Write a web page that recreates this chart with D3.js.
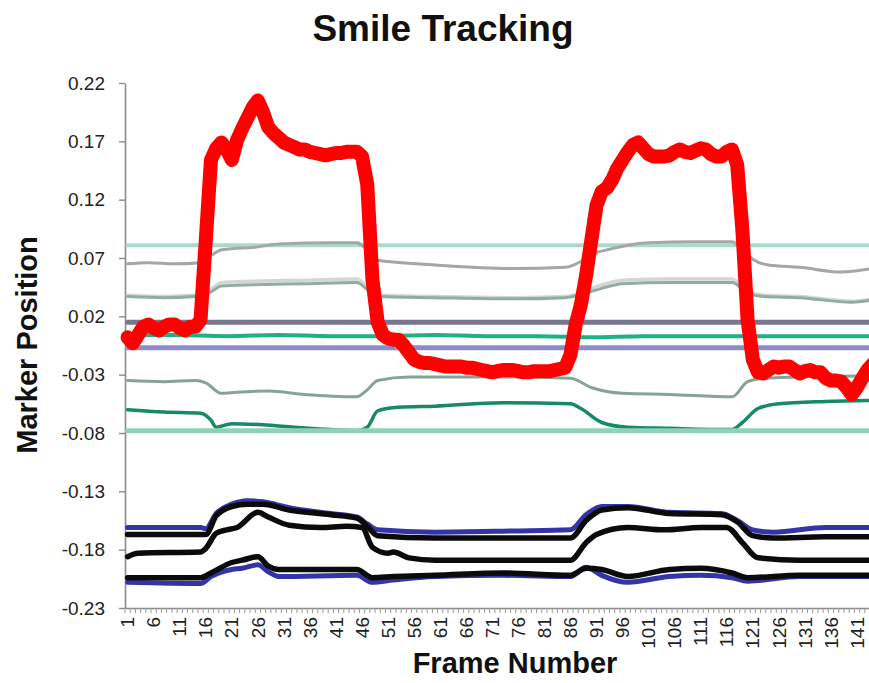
<!DOCTYPE html>
<html><head><meta charset="utf-8">
<script src="https://cdn.jsdelivr.net/npm/d3@7"></script>
<style>
body{margin:0;background:#fff}
svg{display:block}
text{font-family:"Liberation Sans",Arial,Helvetica,sans-serif}
</style>
</head><body>
<svg id="chart" width="869" height="683"></svg>
<script>
// ---------- DATA ----------
const frames = d3.range(1, 145);               // categories 1..144
const xLabelFrames = d3.range(1, 145, 5);      // 1, 6, 11, ... 141
const yTicks = [0.22, 0.17, 0.12, 0.07, 0.02, -0.03, -0.08, -0.13, -0.18, -0.23];

// red smile marker (every frame)
const redValues = [
  0.002,-0.003,0.004,0.011,0.013,0.010,0.008,0.011,0.013,0.013,
  0.010,0.008,0.011,0.011,0.017,0.085,0.154,0.164,0.169,0.163,
  0.154,0.171,0.181,0.190,0.199,0.205,0.195,0.182,0.177,0.173,
  0.169,0.167,0.165,0.163,0.163,0.161,0.160,0.159,0.158,0.159,
  0.160,0.160,0.161,0.161,0.161,0.157,0.133,0.051,0.015,0.004,
  0.001,0.000,0.000,-0.005,-0.011,-0.017,-0.019,-0.020,-0.020,-0.021,
  -0.022,-0.023,-0.023,-0.023,-0.023,-0.024,-0.024,-0.025,-0.026,-0.027,
  -0.028,-0.027,-0.026,-0.026,-0.026,-0.027,-0.028,-0.028,-0.027,-0.027,
  -0.027,-0.027,-0.026,-0.025,-0.024,-0.013,0.013,0.030,0.055,0.085,
  0.115,0.127,0.130,0.137,0.147,0.154,0.161,0.167,0.169,0.164,
  0.159,0.157,0.157,0.157,0.158,0.161,0.163,0.161,0.160,0.162,
  0.164,0.163,0.159,0.157,0.157,0.161,0.163,0.150,0.094,0.017,
  -0.017,-0.028,-0.029,-0.026,-0.023,-0.024,-0.023,-0.023,-0.026,-0.029,
  -0.027,-0.026,-0.028,-0.028,-0.033,-0.035,-0.035,-0.036,-0.041,-0.047,
  -0.041,-0.033,-0.026,-0.021
];

// constant-level markers
const mintTopLevel = 0.081;
const slateLevel = 0.015;
const lavenderLevel = -0.007;
const mintBottomLevel = -0.078;

// gray upper marker
const grayFrames = [1,5,10,15,17,19,21,25,30,40,45,47,49,51,60,75,85,88,90,93,97,101,110,117,119,121,124,130,138,144];
const grayValues = [0.065,0.066,0.065,0.066,0.072,0.077,0.078,0.079,0.082,0.083,0.083,0.077,0.068,0.067,0.064,0.061,0.062,0.067,0.073,0.077,0.081,0.083,0.084,0.084,0.077,0.069,0.064,0.062,0.058,0.061];

// gray-green and light-gray pair
const pairFrames = [1,8,14,17,19,25,35,45,47,49,60,75,85,89,92,96,105,117,120,123,130,140,144];
const grayGreenValues = [0.037,0.036,0.037,0.041,0.046,0.047,0.048,0.049,0.043,0.037,0.036,0.035,0.036,0.040,0.044,0.048,0.049,0.049,0.040,0.037,0.036,0.032,0.034];
const lightGrayValues = [0.038,0.037,0.038,0.043,0.049,0.050,0.051,0.052,0.045,0.038,0.037,0.036,0.037,0.042,0.047,0.051,0.052,0.052,0.042,0.038,0.037,0.033,0.035];

// teal-green marker
const tealFrames = [1,10,20,30,40,50,60,70,80,90,100,110,120,130,144];
const tealValues = [0.004,0.004,0.003,0.004,0.003,0.003,0.004,0.003,0.003,0.002,0.003,0.003,0.003,0.003,0.003];

// lower gray-green marker
const lowGrayFrames = [1,8,14,16,19,22,28,35,45,47,49,55,65,75,86,90,96,105,117,120,123,130,144];
const lowGrayValues = [-0.035,-0.036,-0.035,-0.037,-0.046,-0.045,-0.044,-0.047,-0.049,-0.043,-0.035,-0.032,-0.032,-0.032,-0.033,-0.041,-0.046,-0.047,-0.049,-0.036,-0.033,-0.032,-0.031];

// lower green marker
const greenFrames = [1,8,15,17,18,21,27,33,40,45,47,49,53,60,73,86,88,92,97,105,117,119,122,126,135,144];
const greenValues = [-0.060,-0.062,-0.063,-0.069,-0.075,-0.072,-0.073,-0.075,-0.077,-0.078,-0.075,-0.061,-0.058,-0.057,-0.054,-0.055,-0.059,-0.071,-0.075,-0.076,-0.077,-0.071,-0.059,-0.055,-0.053,-0.052];

// lower lip group
const topLipFrames = [1,15,16,18,21,24,27,32,40,45,47,49,60,75,86,89,92,97,105,115,118,121,125,135,144];
const blueTopValues = [-0.161,-0.161,-0.162,-0.149,-0.141,-0.138,-0.139,-0.144,-0.149,-0.152,-0.158,-0.163,-0.165,-0.164,-0.163,-0.150,-0.143,-0.143,-0.148,-0.149,-0.155,-0.163,-0.165,-0.161,-0.161];
const blackTopValues = [-0.167,-0.167,-0.167,-0.151,-0.143,-0.141,-0.141,-0.146,-0.150,-0.153,-0.160,-0.168,-0.170,-0.170,-0.170,-0.155,-0.146,-0.144,-0.149,-0.150,-0.156,-0.168,-0.170,-0.169,-0.169];

const midLipFrames = [1,3,15,16,18,20,22,26,28,32,38,43,46,48,51,52,55,60,86,89,91,97,104,111,116,119,122,130,144];
const blackMidValues = [-0.186,-0.183,-0.182,-0.179,-0.166,-0.163,-0.161,-0.148,-0.152,-0.159,-0.161,-0.160,-0.161,-0.178,-0.183,-0.182,-0.187,-0.189,-0.189,-0.174,-0.167,-0.161,-0.163,-0.161,-0.161,-0.174,-0.187,-0.189,-0.189];

const lowLipFrames = [1,15,17,21,23,26,28,30,45,48,52,60,73,86,89,92,97,105,111,117,120,130,144];
const blackLowValues = [-0.204,-0.204,-0.200,-0.191,-0.189,-0.186,-0.194,-0.197,-0.197,-0.204,-0.203,-0.202,-0.200,-0.202,-0.196,-0.197,-0.203,-0.197,-0.196,-0.200,-0.204,-0.202,-0.202];
const blueLowValues = [-0.208,-0.209,-0.203,-0.197,-0.196,-0.193,-0.199,-0.203,-0.202,-0.208,-0.206,-0.203,-0.202,-0.203,-0.195,-0.202,-0.208,-0.203,-0.202,-0.204,-0.207,-0.203,-0.203];

// ---------- CHART ----------
const svg = d3.select("#chart");
const plotLeft = 125, plotTop = 83, plotBottom = 608, catStep = 5.21;

const x = d3.scaleBand().domain(frames).range([plotLeft, plotLeft + frames.length * catStep]).paddingInner(0).paddingOuter(0);
const xc = f => x(f) + x.bandwidth() / 2;
const y = d3.scaleLinear().domain([-0.23, 0.22]).range([plotBottom, plotTop]);

// axes
const yAxis = d3.axisLeft(y).tickValues(yTicks).tickSize(6).tickSizeOuter(0).tickPadding(14)
  .tickFormat(d => d.toFixed(2));
const gy = svg.append("g").attr("transform", `translate(${plotLeft},0)`).call(yAxis);
gy.select(".domain").attr("stroke", "#8a8a8a").attr("stroke-width", 1.6);
gy.selectAll(".tick line").attr("stroke", "#8a8a8a").attr("stroke-width", 1.4);
gy.selectAll(".tick text").attr("fill", "#222").style("font-size", "19px");

const xAxis = d3.axisBottom(x).tickValues(xLabelFrames).tickSize(0).tickSizeOuter(0);
const gx = svg.append("g").attr("transform", `translate(0,${plotBottom})`).call(xAxis);
gx.select(".domain").attr("stroke", "#8a8a8a").attr("stroke-width", 1.6);
gx.selectAll(".tick text")
  .attr("transform", "rotate(-90)")
  .attr("x", -9).attr("y", 0).attr("dy", "0.35em")
  .style("text-anchor", "end").style("font-size", "19px").attr("fill", "#222");
// minor ticks at category boundaries
svg.append("g").selectAll("line").data(frames).join("line")
  .attr("x1", d => x(d)).attr("x2", d => x(d))
  .attr("y1", plotBottom).attr("y2", plotBottom + 5)
  .attr("stroke", "#999").attr("stroke-width", 1);

// line helpers
const lineLin = d3.line().x(d => xc(d[0])).y(d => y(d[1]));
const lineSm = d3.line().x(d => xc(d[0])).y(d => y(d[1])).curve(d3.curveMonotoneX);
const zip = (fs, vs) => fs.map((f, i) => [f, vs[i]]);
const flat = v => [[frames[0], v], [frames[frames.length - 1], v]];

const plot = svg.append("g");
function draw(data, color, width, gen) {
  plot.append("path").datum(data).attr("d", gen || lineSm)
    .attr("fill", "none").attr("stroke", color).attr("stroke-width", width)
    .attr("stroke-linejoin", "round").attr("stroke-linecap", "round");
}

draw(flat(mintTopLevel), "#a9dcc8", 4, lineLin);
draw(zip(grayFrames, grayValues), "#a6a6a6", 3);
draw(zip(pairFrames, lightGrayValues), "#d4d6d5", 3.5);
draw(zip(pairFrames, grayGreenValues), "#8fae9f", 3);
draw(flat(slateLevel), "#77778f", 5, lineLin);
draw(zip(tealFrames, tealValues), "#1fb089", 4);
draw(flat(lavenderLevel), "#8c8cc9", 5, lineLin);
draw(zip(lowGrayFrames, lowGrayValues), "#87a394", 3);
draw(zip(greenFrames, greenValues), "#168a67", 3.5);
draw(flat(mintBottomLevel), "#8fd3b6", 5, lineLin);

draw(zip(topLipFrames, blueTopValues), "#3434a8", 5);
draw(zip(lowLipFrames, blueLowValues), "#3434a8", 5);
draw(zip(topLipFrames, blackTopValues), "#0b0b0b", 5.5);
draw(zip(midLipFrames, blackMidValues), "#0b0b0b", 5.5);
draw(zip(lowLipFrames, blackLowValues), "#0b0b0b", 5.5);

draw(zip(frames, redValues), "#ff0000", 14, lineLin);

// titles
svg.append("text").attr("x", 443).attr("y", 41).attr("text-anchor", "middle")
  .style("font-size", "37px").style("font-weight", "bold").attr("fill", "#111").text("Smile Tracking");
svg.append("text").attr("x", 515).attr("y", 673).attr("text-anchor", "middle")
  .style("font-size", "29px").style("font-weight", "bold").attr("fill", "#111").text("Frame Number");
svg.append("text").attr("transform", "translate(37,345) rotate(-90)").attr("text-anchor", "middle")
  .style("font-size", "29px").style("font-weight", "bold").attr("fill", "#111").text("Marker Position");
</script>
</body></html>
